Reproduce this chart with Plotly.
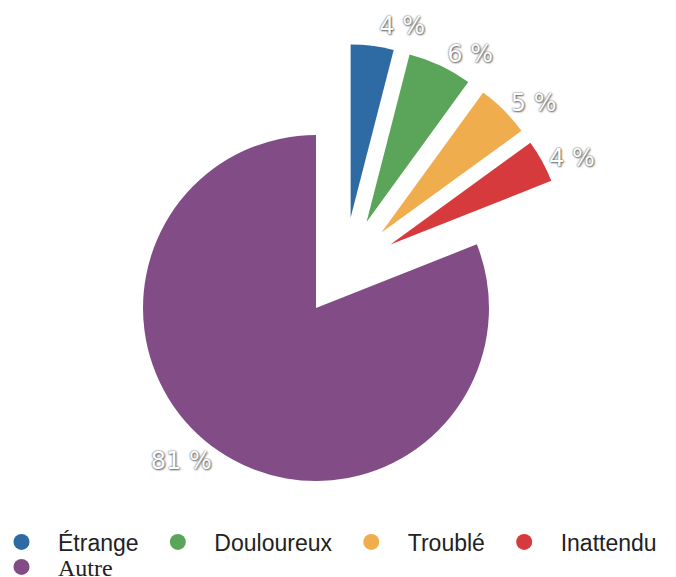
import plotly.graph_objects as go

labels = ["Étrange", "Douloureux", "Troublé", "Inattendu", "Autre"]
values = [4, 6, 5, 4, 81]
colors = ["#2e6aa3", "#5aa55a", "#f0ad4e", "#d63a3c", "#824c86"]
pulls_small = [0.306, 0.306, 0.306, 0.306, 0]

clear = "rgba(0,0,0,0)"
is_small = [lab != "Autre" for lab in labels]
label_font = dict(family="DejaVu Sans", size=24, color="white",
                  shadow="0px 0px 2px #444, 1px 1px 2px #777")

fig = go.Figure()

# big slice (Autre) on its own, other slices invisible
fig.add_trace(go.Pie(
    labels=labels,
    values=values,
    sort=False,
    direction="clockwise",
    rotation=0,
    marker=dict(colors=[clear if s else c for s, c in zip(is_small, colors)],
                line=dict(width=0)),
    text=["" if s else f"{v} %" for s, v in zip(is_small, values)],
    textinfo="text",
    textposition="outside",
    textfont=label_font,
    showlegend=False,
    hoverinfo="skip",
    domain=dict(x=[0.2115, 0.7234], y=[0.1664, 0.766]),
))

# small slices, shifted up-right and pulled out
fig.add_trace(go.Pie(
    labels=labels,
    values=values,
    sort=False,
    direction="clockwise",
    rotation=0,
    pull=pulls_small,
    marker=dict(colors=[c if s else clear for s, c in zip(is_small, colors)],
                line=dict(width=0)),
    text=[f"{v} %" if s else "" for s, v in zip(is_small, values)],
    textinfo="text",
    textposition="outside",
    textfont=label_font,
    showlegend=False,
    hoverinfo="skip",
    domain=dict(x=[0.1746, 0.8432], y=[0.1404, 0.9237]),
))

# legend with round markers, one empty scatter per category
pad = "\u00a0\u00a0"  # a little extra room between legend entries
for i, (name, color) in enumerate(zip(labels, colors)):
    if name == "Autre":
        shown = '<span style="font-family:Liberation Serif;font-size:24px">Autre</span>'
        leg = "legend2"
    else:
        shown = name + pad if i < 3 else name
        leg = "legend"
    fig.add_trace(go.Scatter(
        x=[None], y=[None], mode="markers", name=shown, legend=leg,
        marker=dict(color=color, size=19, symbol="circle"),
    ))

legend_style = dict(
    orientation="h",
    x=0,
    xanchor="left",
    yanchor="middle",
    bgcolor=clear,
    font=dict(family="Liberation Sans", size=23, color="#222"),
    itemwidth=63,
    indentation=-15,
)

fig.update_layout(
    width=676,
    height=577,
    margin=dict(l=0, r=0, t=0, b=0, autoexpand=False),
    paper_bgcolor="white",
    plot_bgcolor=clear,
    xaxis=dict(visible=False),
    yaxis=dict(visible=False),
    legend=dict(y=0.0607, **legend_style),
    legend2=dict(y=0.0173, **legend_style),
)

fig.write_html("out.html", config={"displayModeBar": False},
               post_script="document.body.style.margin='0';")
